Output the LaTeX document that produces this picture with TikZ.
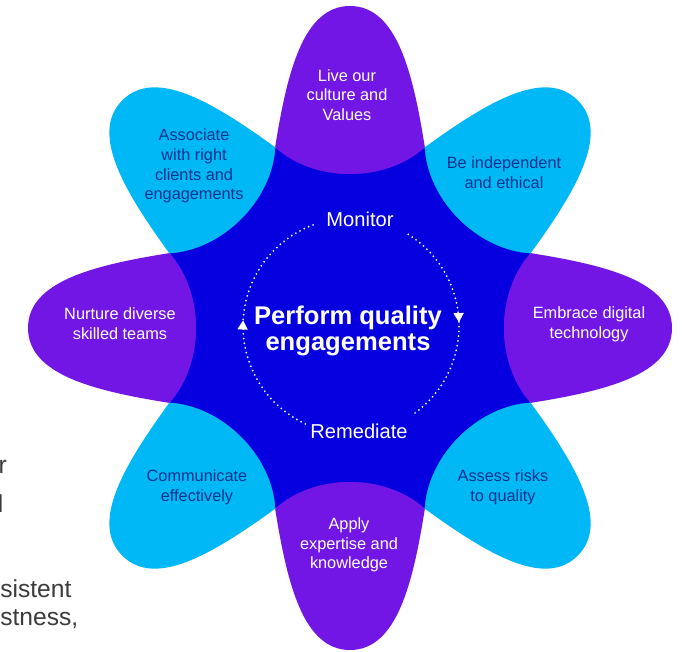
\documentclass[tikz,border=0pt]{standalone}
\usepackage{fontspec}
\setmainfont{Liberation Sans}
\usetikzlibrary{arrows.meta}
\usetikzlibrary{decorations.markings}
\definecolor{petalpurple}{RGB}{114,22,230}
\definecolor{petalcyan}{RGB}{0,184,245}
\definecolor{coreblue}{RGB}{6,0,224}
\definecolor{labelnavy}{RGB}{0,51,141}
\definecolor{bodygrey}{RGB}{60,60,60}
\newcommand{\petalfont}{\fontsize{11.6}{14}\selectfont}
\newcommand{\bodyfont}{\fontsize{17.5}{21}\selectfont}

\begin{document}
\begin{tikzpicture}[x=0.025cm, y=0.025cm,
    petal/.style={align=center, font=\petalfont},
    onpurple/.style={petal, text=white},
    oncyan/.style={petal, text=labelnavy},
    frag/.style={text=bodygrey, font=\bodyfont, inner sep=0pt},
    cycledots/.style={white, line width=1.4pt, line cap=round, dash pattern=on 0pt off 3.4pt,
      postaction={decorate},
      decoration={markings, mark=at position 0.5 with {\arrow{Triangle[width=7pt,length=6.5pt]}}}}]
    \useasboundingbox[fill=white] (-350,-323) rectangle (332,328);
    \foreach \a/\c in {90/petalpurple, 0/petalpurple, 270/petalpurple, 180/petalpurple,
                       45/petalcyan, 135/petalcyan, 225/petalcyan, 315/petalcyan}
      \fill[\c, rotate=\a] (0,0) -- (180,75) .. controls (255,63) and (322,47) .. (322,0)
        .. controls (322,-47) and (255,-63) .. (180,-75) -- cycle;
    \fill[coreblue] (22.5:195) \foreach \a in {45,90,...,360} {
        .. controls ({\a-13.6}:149.2) and ({\a+13.6}:149.2) .. ({\a+22.5}:195) } -- cycle;
    \node[onpurple] (live) at (-3,233) {Live our\\culture and\\Values};
    \node[oncyan] (indep) at (154,155) {Be independent\\and ethical};
    \node[onpurple] (digital) at (239,4) {Embrace digital\\technology};
    \node[oncyan] (risks) at (153,-159) {Assess risks\\to quality};
    \node[onpurple] (apply) at (-1,-217) {Apply\\expertise and\\knowledge};
    \node[oncyan] (comm) at (-153,-159) {Communicate\\effectively};
    \node[onpurple] (nurture) at (-230,4) {Nurture diverse\\skilled teams};
    \node[oncyan] (assoc) at (-156,162) {Associate\\with right\\clients and\\engagements};
    \node[align=center, text=white, font=\bfseries\fontsize{18.2}{18.6}\selectfont] (perf) at (-2,-3) {Perform quality\\engagements};
    \node[text=white, font=\fontsize{14.3}{17}\selectfont] (mon) at (10,109) {Monitor};
    \node[text=white, font=\fontsize{14.3}{17}\selectfont] (rem) at (9,-103) {Remediate};
    \coordinate (cyc) at (1,2);
    \draw[cycledots] ([shift={(58:108)}]cyc) arc[start angle=58, end angle=-54, radius=108];
    \draw[cycledots] ([shift={(245:108)}]cyc) arc[start angle=245, end angle=109, radius=108];
    \node[frag, anchor=base east] (fragr) at (-343,-145) {r};
    \node[frag, anchor=base east] (fragl) at (-346.3,-184) {l};
    \node[frag, anchor=base west] (fragsis) at (-350,-269) {sistent};
    \node[frag, anchor=base west] (fragstn) at (-350,-297) {stness,};
  \end{tikzpicture}
\end{document}
